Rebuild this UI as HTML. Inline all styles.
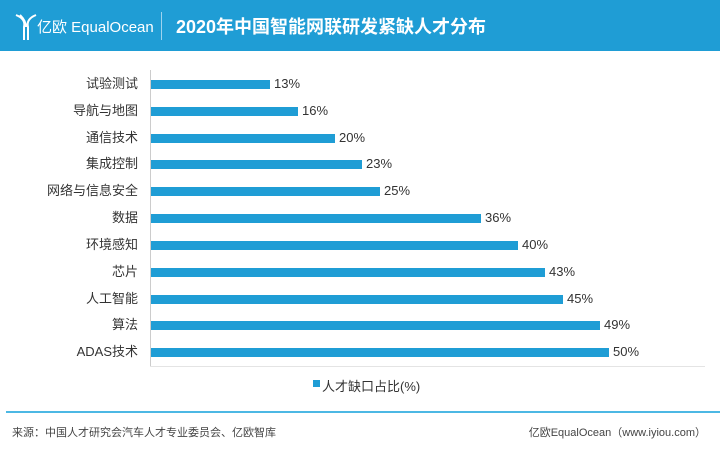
<!DOCTYPE html>
<html><head><meta charset="utf-8"><style>
body{margin:0;width:720px;height:459px;background:#fff;position:relative;overflow:hidden;font-family:"Liberation Sans","Noto Sans CJK SC",sans-serif;}
.hdr{position:absolute;left:0;top:0;width:720px;height:51px;background:#1f9dd5;}
.lab{position:absolute;right:582px;font-size:13px;color:#333;line-height:14px;white-space:nowrap}
.bar{position:absolute;left:151px;height:9px;background:#1f9dd5}
.val{position:absolute;font-size:13px;color:#333;line-height:14px}
</style></head><body>
<div class="hdr">
<svg style="position:absolute;left:14px;top:13px" width="24" height="28" viewBox="0 0 24 28"><path d="M2 2 Q12 6 10 14 L10 27 M22 2 Q12 6 14 14 L14 27 M6 2 Q12 8 12 14" stroke="#fff" stroke-width="2" fill="none"/></svg>
<div style="position:absolute;left:37px;top:16px;color:#fff;font-size:15px;">亿欧 EqualOcean</div>
<div style="position:absolute;left:161px;top:12px;width:1px;height:28px;background:#9fd3ee"></div>
<div style="position:absolute;left:176px;top:13px;color:#fff;font-size:18px;font-weight:bold;">2020年中国智能网联研发紧缺人才分布</div>
</div>
<div style="position:absolute;left:150px;top:70px;width:1px;height:297px;background:#ccc"></div>
<div style="position:absolute;left:150px;top:366px;width:555px;height:1px;background:#e4e4e4"></div>
<div class="lab" style="top:77px">试验测试</div><div class="bar" style="top:80px;width:119px"></div><div class="val" style="left:274px;top:77px">13%</div>
<div class="lab" style="top:104px">导航与地图</div><div class="bar" style="top:107px;width:147px"></div><div class="val" style="left:302px;top:104px">16%</div>
<div class="lab" style="top:131px">通信技术</div><div class="bar" style="top:134px;width:184px"></div><div class="val" style="left:339px;top:131px">20%</div>
<div class="lab" style="top:157px">集成控制</div><div class="bar" style="top:160px;width:211px"></div><div class="val" style="left:366px;top:157px">23%</div>
<div class="lab" style="top:184px">网络与信息安全</div><div class="bar" style="top:187px;width:229px"></div><div class="val" style="left:384px;top:184px">25%</div>
<div class="lab" style="top:211px">数据</div><div class="bar" style="top:214px;width:330px"></div><div class="val" style="left:485px;top:211px">36%</div>
<div class="lab" style="top:238px">环境感知</div><div class="bar" style="top:241px;width:367px"></div><div class="val" style="left:522px;top:238px">40%</div>
<div class="lab" style="top:265px">芯片</div><div class="bar" style="top:268px;width:394px"></div><div class="val" style="left:549px;top:265px">43%</div>
<div class="lab" style="top:292px">人工智能</div><div class="bar" style="top:295px;width:412px"></div><div class="val" style="left:567px;top:292px">45%</div>
<div class="lab" style="top:318px">算法</div><div class="bar" style="top:321px;width:449px"></div><div class="val" style="left:604px;top:318px">49%</div>
<div class="lab" style="top:345px">ADAS技术</div><div class="bar" style="top:348px;width:458px"></div><div class="val" style="left:613px;top:345px">50%</div>
<div style="position:absolute;left:313px;top:380px;width:7px;height:7px;background:#1f9dd5"></div>
<div style="position:absolute;left:322px;top:376px;font-size:13px;color:#333">人才缺口占比(%)</div>
<div style="position:absolute;left:6px;top:411px;width:714px;height:2px;background:#4cb8e4"></div>
<div style="position:absolute;left:12px;top:424px;font-size:11px;color:#444">来源：中国人才研究会汽车人才专业委员会、亿欧智库</div>
<div style="position:absolute;right:14px;top:424px;font-size:11px;color:#444">亿欧EqualOcean（www.iyiou.com）</div>
</body></html>
